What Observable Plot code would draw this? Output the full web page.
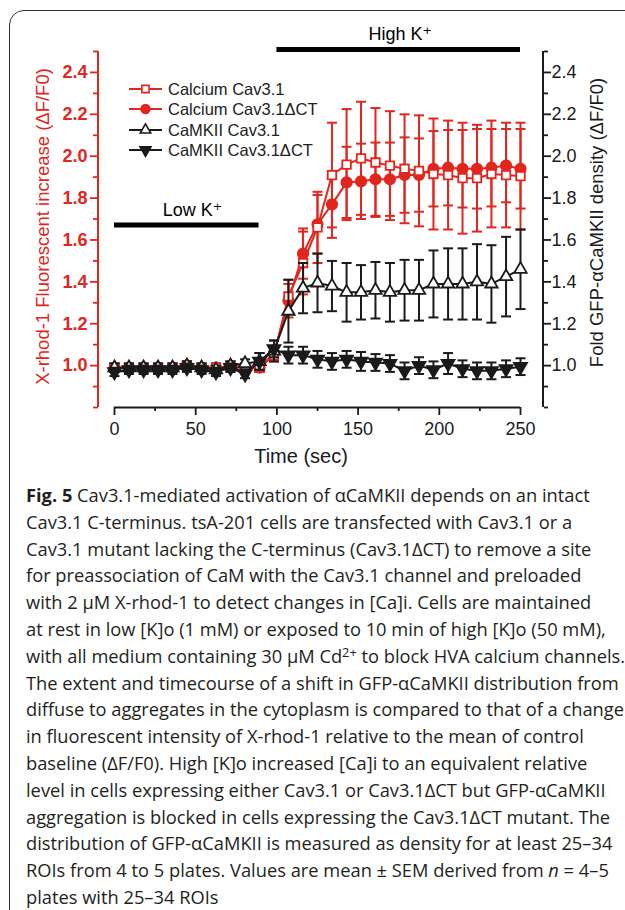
<!DOCTYPE html>
<html><head><meta charset="utf-8">
<script src="https://cdn.jsdelivr.net/npm/d3@7"></script>
<script src="https://cdn.jsdelivr.net/npm/@observablehq/plot@0.6"></script>
<style>
html,body{margin:0;padding:0;background:#fff;width:625px;height:910px;overflow:hidden;position:relative}
#border{position:absolute;left:9px;top:10px;width:700px;height:1000px;border:1.6px solid #333;border-radius:15px 0 0 0;box-sizing:border-box}
#chart{position:absolute;left:0;top:0}
#legend{position:absolute;left:0;top:0}
#caption{position:absolute;left:26px;top:482px;font-family:"Open Sans";font-size:18.3px;line-height:26.8px;color:#231f20;white-space:nowrap}
#caption sup{font-size:0.7em;line-height:0;vertical-align:0.45em}
</style></head><body>
<div id="border"></div>
<div id="chart"></div>
<svg id="legend" width="625" height="470"></svg>
<div id="caption"></div>
<script>
// ---- data ----
const times = [0, 8.9, 17.9, 26.8, 35.7, 44.6, 53.6, 62.5, 71.4, 80.4, 89.3, 98.2, 107.1, 116.1, 125.0, 133.9, 142.9, 151.8, 160.7, 169.6, 178.6, 187.5, 196.4, 205.4, 214.3, 223.2, 232.1, 241.1, 250.0];

const calciumCav31     = [0.99, 0.99, 0.99, 0.99, 0.99, 1.00, 0.99, 0.99, 1.00, 0.99, 0.99, 1.05, 1.33, 1.49, 1.66, 1.91, 1.96, 1.99, 1.97, 1.955, 1.94, 1.93, 1.915, 1.91, 1.895, 1.895, 1.915, 1.91, 1.905];
const calciumCav31Sem  = [0.02, 0.02, 0.02, 0.02, 0.02, 0.02, 0.02, 0.02, 0.02, 0.02, 0.02, 0.03, 0.08, 0.15, 0.17, 0.25, 0.265, 0.27, 0.26, 0.26, 0.26, 0.265, 0.265, 0.26, 0.265, 0.255, 0.255, 0.25, 0.255];

const calciumDCT       = [0.99, 0.99, 0.99, 0.99, 0.99, 1.00, 0.99, 0.99, 0.99, 0.99, 0.99, 1.06, 1.31, 1.535, 1.675, 1.77, 1.875, 1.88, 1.89, 1.89, 1.91, 1.91, 1.94, 1.945, 1.94, 1.94, 1.945, 1.955, 1.94];
const calciumDCTSem    = [0.02, 0.02, 0.02, 0.02, 0.02, 0.02, 0.02, 0.02, 0.02, 0.02, 0.02, 0.03, 0.08, 0.12, 0.14, 0.16, 0.17, 0.18, 0.175, 0.175, 0.18, 0.175, 0.18, 0.18, 0.185, 0.19, 0.185, 0.175, 0.19];

const camkiiCav31      = [0.99, 0.99, 0.99, 0.99, 0.99, 1.00, 0.99, 0.98, 1.00, 1.01, 1.02, 1.07, 1.26, 1.37, 1.395, 1.38, 1.35, 1.35, 1.36, 1.35, 1.36, 1.36, 1.39, 1.39, 1.39, 1.40, 1.39, 1.425, 1.46];
const camkiiCav31Sem   = [0.02, 0.02, 0.02, 0.02, 0.02, 0.02, 0.02, 0.02, 0.02, 0.02, 0.04, 0.05, 0.15, 0.12, 0.14, 0.12, 0.14, 0.13, 0.135, 0.14, 0.145, 0.145, 0.16, 0.17, 0.17, 0.18, 0.185, 0.19, 0.19];

const camkiiDCT        = [0.97, 0.98, 0.98, 0.98, 0.98, 0.99, 0.98, 0.97, 0.99, 0.96, 1.02, 1.08, 1.05, 1.05, 1.03, 1.02, 1.03, 1.02, 1.015, 1.01, 0.975, 1.00, 0.98, 1.01, 0.985, 0.975, 0.975, 0.985, 0.995];
const camkiiDCTSem     = [0.02, 0.02, 0.02, 0.02, 0.02, 0.02, 0.02, 0.02, 0.02, 0.02, 0.04, 0.04, 0.04, 0.04, 0.04, 0.04, 0.04, 0.045, 0.04, 0.04, 0.04, 0.04, 0.04, 0.05, 0.04, 0.04, 0.04, 0.04, 0.04];

const seriesNames = ["Calcium Cav3.1", "Calcium Cav3.1\u0394CT", "CaMKII Cav3.1", "CaMKII Cav3.1\u0394CT"];

const periodLabels = ["Low K\u207A", "High K\u207A"];
const periodStart  = [0, 100];
const periodEnd    = [89, 250];
const periodLevel  = [1.671, 2.51];
const periodLabelX = [48, 176];

const xTicks = [0, 50, 100, 150, 200, 250];
const xMinorTicks = [25, 75, 125, 175, 225];
const yTicks = [1.0, 1.2, 1.4, 1.6, 1.8, 2.0, 2.2, 2.4];
const yMinorTicks = [0.8, 0.9, 1.1, 1.3, 1.5, 1.7, 1.9, 2.1, 2.3, 2.5];

const leftTitle = "X-rhod-1 Fluorescent increase (\u0394F/F0)";
const rightTitle = "Fold GFP-\u03B1CaMKII density (\u0394F/F0)";
const xTitle = "Time (sec)";

const captionLines = [
  "<b>Fig. 5</b> Cav3.1-mediated activation of \u03B1CaMKII depends on an intact",
  "Cav3.1 C-terminus. tsA-201 cells are transfected with Cav3.1 or a",
  "Cav3.1 mutant lacking the C-terminus (Cav3.1\u0394CT) to remove a site",
  "for preassociation of CaM with the Cav3.1 channel and preloaded",
  "with 2 \u03BCM X-rhod-1 to detect changes in [Ca]i. Cells are maintained",
  "at rest in low [K]o (1 mM) or exposed to 10 min of high [K]o (50 mM),",
  "with all medium containing 30 \u03BCM Cd<sup>2+</sup> to block HVA calcium channels.",
  "The extent and timecourse of a shift in GFP-\u03B1CaMKII distribution from",
  "diffuse to aggregates in the cytoplasm is compared to that of a change",
  "in fluorescent intensity of X-rhod-1 relative to the mean of control",
  "baseline (\u0394F/F0). High [K]o increased [Ca]i to an equivalent relative",
  "level in cells expressing either Cav3.1 or Cav3.1\u0394CT but GFP-\u03B1CaMKII",
  "aggregation is blocked in cells expressing the Cav3.1\u0394CT mutant. The",
  "distribution of GFP-\u03B1CaMKII is measured as density for at least 25\u201334",
  "ROIs from 4 to 5 plates. Values are mean \u00B1 SEM derived from <i>n</i> = 4\u20135",
  "plates with 25\u201334 ROIs"
];

// ---- styling ----
const RED = "#e2261d";
const BLACK = "#1a1a1a";
const FONT = "'Liberation Sans', Arial, 'DejaVu Sans', sans-serif";

const sqrt3 = Math.sqrt(3);
const triDown = {draw(ctx, size) {
  const y = -Math.sqrt(size / (sqrt3 * 3));
  ctx.moveTo(0, -y * 2); ctx.lineTo(-sqrt3 * y, y); ctx.lineTo(sqrt3 * y, y); ctx.closePath();
}};
const capSym = {draw(ctx, size) {
  const w = Math.sqrt(size / Math.PI);
  ctx.moveTo(-w, 0); ctx.lineTo(w, 0);
}};

const seriesDefs = [
  {name: seriesNames[1], v: calciumDCT,   e: calciumDCTSem,   color: RED,   symbol: "circle",   fill: RED,   r: 5.2},
  {name: seriesNames[0], v: calciumCav31, e: calciumCav31Sem, color: RED,   symbol: "square",   fill: "white", r: 4.8},
  {name: seriesNames[2], v: camkiiCav31,  e: camkiiCav31Sem,  color: BLACK, symbol: "triangle", fill: "white", r: 4.6},
  {name: seriesNames[3], v: camkiiDCT,    e: camkiiDCTSem,    color: BLACK, symbol: triDown,    fill: BLACK, r: 4.8}
];

const periods = periodLabels.map((label, i) => ({label, start: periodStart[i], end: periodEnd[i], level: periodLevel[i], lx: periodLabelX[i]}));

const marks = [];
for (const s of seriesDefs) {
  const rows = times.map((t, i) => ({t, v: s.v[i], lo: s.v[i] - s.e[i], hi: s.v[i] + s.e[i]}));
  marks.push(Plot.ruleX(rows, {x: "t", y1: "lo", y2: "hi", stroke: s.color, strokeWidth: 2}));
  marks.push(Plot.dot(rows, {x: "t", y: "hi", symbol: capSym, r: 5, stroke: s.color, strokeWidth: 2, fill: "none"}));
  marks.push(Plot.dot(rows, {x: "t", y: "lo", symbol: capSym, r: 5, stroke: s.color, strokeWidth: 2, fill: "none"}));
  marks.push(Plot.line(rows, {x: "t", y: "v", stroke: s.color, strokeWidth: 2}));
  marks.push(Plot.dot(rows, {x: "t", y: "v", symbol: s.symbol, r: s.r, stroke: s.color, strokeWidth: 1.8, fill: s.fill}));
}

const plot = Plot.plot({
  width: 625,
  height: 470,
  marginLeft: 98,
  marginRight: 82,
  marginTop: 51,
  marginBottom: 63,
  insetLeft: 16,
  insetRight: 23,
  style: {fontFamily: FONT, fontSize: "18px", overflow: "visible", background: "transparent"},
  x: {domain: [0, 250], axis: null},
  y: {domain: [0.8, 2.5], axis: null},
  marks: [
    // axes
    Plot.axisY({anchor: "left", ticks: yTicks, tickSize: 8, tickPadding: 3, tickFormat: d3.format(".1f"), color: RED, fontSize: 18, fontWeight: "bold", strokeWidth: 1.8, label: null}),
    Plot.axisY({anchor: "left", ticks: yMinorTicks, tickSize: 5, tickFormat: () => "", color: RED, strokeWidth: 1.8, label: null}),
    Plot.axisY({anchor: "right", ticks: yTicks, tickSize: 7, tickPadding: 1, tickFormat: d3.format(".1f"), color: BLACK, fontSize: 18, strokeWidth: 1.8, label: null}),
    Plot.axisY({anchor: "right", ticks: yMinorTicks, tickSize: 4, tickFormat: () => "", color: BLACK, strokeWidth: 1.8, label: null}),
    Plot.axisX({anchor: "bottom", ticks: xTicks, tickSize: 8, tickPadding: 7, tickFormat: d3.format("d"), color: BLACK, fontSize: 18, strokeWidth: 1.8, label: null}),
    Plot.axisX({anchor: "bottom", ticks: xMinorTicks, tickSize: 4, tickFormat: () => "", color: BLACK, strokeWidth: 1.8, label: null}),
    Plot.ruleY([0.8], {x1: 0, x2: 250, stroke: BLACK, strokeWidth: 2}),
    // titles
    Plot.text([leftTitle], {frameAnchor: "left", rotate: -90, dx: -55, dy: -3, fill: RED, fontSize: 18.5, textAnchor: "middle"}),
    Plot.text([rightTitle], {frameAnchor: "right", rotate: -90, dx: 54, dy: -7, fill: BLACK, fontSize: 18.5, textAnchor: "middle"}),
    Plot.text([xTitle], {frameAnchor: "bottom", dx: -20, dy: 55, fill: BLACK, fontSize: 20, textAnchor: "middle"}),
    // periods
    Plot.ruleY(periods, {x1: "start", x2: "end", y: "level", stroke: "black", strokeWidth: 5}),
    Plot.text(periods, {x: "lx", y: "level", text: "label", dy: -15, fill: "black", fontSize: 18}),
    ...marks
  ]
});

// axis domain lines (left red, right black)
{
  const svg = d3.select(plot);
  const [yb, yt] = plot.scale("y").range;
  const xl = 98, xr = 625 - 82;
  svg.append("line").attr("x1", xl).attr("x2", xl).attr("y1", yb).attr("y2", yt).attr("stroke", RED).attr("stroke-width", 2);
  svg.append("line").attr("x1", xr).attr("x2", xr).attr("y1", yb).attr("y2", yt).attr("stroke", BLACK).attr("stroke-width", 2);
}
document.getElementById("chart").appendChild(plot);

// legend
{
  const lg = d3.select("#legend").append("g").attr("font-family", FONT).attr("font-size", 16.5);
  const order = [1, 0, 2, 3];
  const rowY = [89, 109, 130, 150];
  order.forEach((si, row) => {
    const s = seriesDefs[si];
    const y = rowY[row];
    lg.append("line").attr("x1", 129).attr("x2", 162).attr("y1", y).attr("y2", y).attr("stroke", s.color).attr("stroke-width", 2);
    const symType = typeof s.symbol === "string" ? ({circle: d3.symbolCircle, square: d3.symbolSquare, triangle: d3.symbolTriangle})[s.symbol] : s.symbol;
    const size = Math.PI * (s.r * 0.85) ** 2;
    lg.append("path").attr("d", d3.symbol(symType, size)()).attr("transform", `translate(145.5,${y})`)
      .attr("fill", s.fill).attr("stroke", s.color).attr("stroke-width", 1.6);
    lg.append("text").attr("x", 168).attr("y", y).attr("dy", "0.35em").attr("fill", "#222").text(s.name);
  });
}

// caption
document.getElementById("caption").innerHTML = captionLines.join("<br>");
</script>
</body></html>
